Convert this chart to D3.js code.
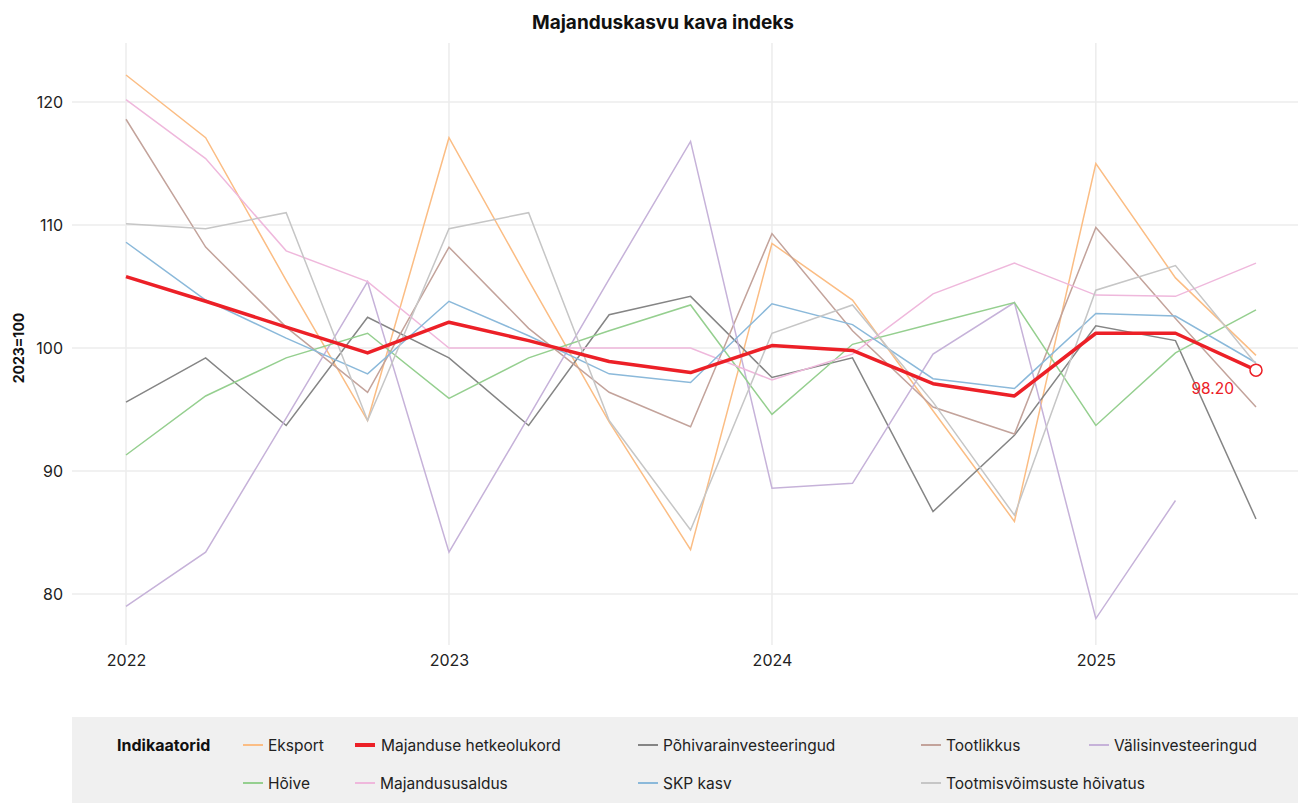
<!DOCTYPE html>
<html>
<head>
<meta charset="utf-8">
<script src="https://cdn.jsdelivr.net/npm/d3@7"></script>
<style>
    html, body { margin: 0; padding: 0; background: #fff; }
    body { font-family: Inter, "Noto Sans", sans-serif; }
    .grid line { stroke: #ececec; stroke-width: 1.5; }
</style>
</head>
<body>
<div id="mainChart"></div>
<script>
// quarters 2022 Q1 .. 2025 Q3
const quarters = [
    '2022-01-01', '2022-04-01', '2022-07-01', '2022-10-01',
    '2023-01-01', '2023-04-01', '2023-07-01', '2023-10-01',
    '2024-01-01', '2024-04-01', '2024-07-01', '2024-10-01',
    '2025-01-01', '2025-04-01', '2025-07-01'
];
const yearTicks = ['2022-01-01', '2023-01-01', '2024-01-01', '2025-01-01'];
const yTicks = [80, 90, 100, 110, 120];

const eksport = [122.2, 117.1, 105.5, 94.1, 117.1, 105.5, 94.0, 83.6, 108.5, 103.9, 94.9, 85.9, 115.0, 105.7, 99.4];
const hetkeolukord = [105.8, 103.8, 101.7, 99.6, 102.1, 100.6, 98.9, 98.0, 100.2, 99.8, 97.1, 96.1, 101.2, 101.2, 98.2];
const pohivara = [95.6, 99.2, 93.7, 102.5, 99.2, 93.7, 102.7, 104.2, 97.6, 99.2, 86.7, 92.9, 101.8, 100.6, 86.1];
const tootlikkus = [118.6, 108.2, 101.7, 96.4, 108.2, 101.6, 96.4, 93.6, 109.3, 101.4, 95.2, 93.0, 109.8, 102.4, 95.2];
const valisinv = [79.0, 83.4, 94.3, 105.4, 83.4, 94.4, 105.6, 116.8, 88.6, 89.0, 99.5, 103.7, 78.0, 87.6, null];
const hoive = [91.3, 96.1, 99.2, 101.2, 95.9, 99.2, 101.4, 103.5, 94.6, 100.3, 102.0, 103.7, 93.7, 99.6, 103.1];
const usaldus = [120.2, 115.4, 107.9, 105.4, 100.0, 100.0, 100.0, 100.0, 97.4, 99.5, 104.4, 106.9, 104.3, 104.2, 106.9];
const skp = [108.6, 103.9, 100.8, 97.9, 103.8, 101.0, 97.9, 97.2, 103.6, 101.9, 97.5, 96.7, 102.8, 102.6, 98.8];
const tootmisvoimsus = [110.1, 109.7, 111.0, 94.1, 109.7, 111.0, 94.1, 85.2, 101.2, 103.5, 95.6, 86.4, 104.7, 106.7, 98.7];

// legend order
const series = [
    { name: 'Eksport', values: eksport, color: '#fbbd84' },
    { name: 'Majanduse hetkeolukord', values: hetkeolukord, color: '#ec2027', main: true },
    { name: 'Põhivarainvesteeringud', values: pohivara, color: '#858585' },
    { name: 'Tootlikkus', values: tootlikkus, color: '#c3a39b' },
    { name: 'Välisinvesteeringud', values: valisinv, color: '#c6b2d9' },
    { name: 'Hõive', values: hoive, color: '#95cf8f' },
    { name: 'Majandususaldus', values: usaldus, color: '#efb8dc' },
    { name: 'SKP kasv', values: skp, color: '#8bb9da' },
    { name: 'Tootmisvõimsuste hõivatus', values: tootmisvoimsus, color: '#c6c6c6' }
];

const width = 1298, height = 803;
const margin = { top: 43, right: 0, bottom: 158, left: 72 };
const parse = d3.timeParse('%Y-%m-%d');

const svg = d3.select('#mainChart').append('svg')
    .attr('width', width)
    .attr('height', height);

const x = d3.scaleTime()
    .domain([parse(quarters[0]), parse(quarters[quarters.length - 1])])
    .range([margin.left + 54, width - margin.right - 42]);

const y = d3.scaleLinear()
    .domain([75.85, 124.8])
    .range([height - margin.bottom, margin.top]);

// title
svg.append('text')
    .attr('x', 663)
    .attr('y', 29)
    .attr('text-anchor', 'middle')
    .attr('font-size', 19)
    .attr('font-weight', 700)
    .attr('fill', '#111')
    .text('Majanduskasvu kava indeks');

// grid
const grid = svg.append('g').attr('class', 'grid');
grid.selectAll('.hgrid')
    .data(yTicks)
    .join('line')
    .attr('x1', margin.left)
    .attr('x2', width - margin.right)
    .attr('y1', d => y(d))
    .attr('y2', d => y(d));
grid.selectAll('.vgrid')
    .data(yearTicks)
    .join('line')
    .attr('x1', d => x(parse(d)))
    .attr('x2', d => x(parse(d)))
    .attr('y1', margin.top)
    .attr('y2', height - margin.bottom);

// axes
const yAxis = g => g
    .attr('transform', `translate(${margin.left},0)`)
    .call(d3.axisLeft(y).tickValues(yTicks).tickSize(0).tickPadding(9))
    .call(g => g.select('.domain').remove())
    .call(g => g.selectAll('text')
        .attr('font-size', 16)
        .attr('font-family', 'Inter, sans-serif')
        .attr('fill', '#222'));

const xAxis = g => g
    .attr('transform', `translate(0,${height - margin.bottom})`)
    .call(d3.axisBottom(x)
        .tickValues(yearTicks.map(parse))
        .tickFormat(d3.timeFormat('%Y'))
        .tickSize(0).tickPadding(10))
    .call(g => g.select('.domain').remove())
    .call(g => g.selectAll('text')
        .attr('font-size', 16)
        .attr('font-family', 'Inter, sans-serif')
        .attr('fill', '#222'));

svg.append('g').call(yAxis);
svg.append('g').call(xAxis);

svg.append('text')
    .attr('transform', `translate(24,${y(100)}) rotate(-90)`)
    .attr('text-anchor', 'middle')
    .attr('font-size', 14)
    .attr('font-weight', 700)
    .attr('fill', '#111')
    .text('2023=100');

// lines
const line = d3.line()
    .defined(d => d.value != null)
    .x(d => x(d.date))
    .y(d => y(d.value));

const toPoints = vals => vals.map((v, i) => ({ date: parse(quarters[i]), value: v }));

const others = series.filter(s => !s.main);
const mainSeries = series.find(s => s.main);

svg.append('g')
    .selectAll('path')
    .data(others)
    .join('path')
    .attr('fill', 'none')
    .attr('stroke', d => d.color)
    .attr('stroke-width', 1.5)
    .attr('stroke-linejoin', 'miter')
    .attr('d', d => line(toPoints(d.values)));

svg.append('path')
    .datum(toPoints(mainSeries.values))
    .attr('fill', 'none')
    .attr('stroke', mainSeries.color)
    .attr('stroke-width', 3.5)
    .attr('stroke-linejoin', 'round')
    .attr('d', line);

// last value marker
const last = toPoints(mainSeries.values).slice(-1)[0];
svg.append('circle')
    .attr('cx', x(last.date))
    .attr('cy', y(last.value))
    .attr('r', 6)
    .attr('fill', '#fff')
    .attr('stroke', mainSeries.color)
    .attr('stroke-width', 1.5);

svg.append('text')
    .attr('x', x(last.date) - 22)
    .attr('y', y(last.value) + 24)
    .attr('text-anchor', 'end')
    .attr('font-size', 15.5)
    .attr('fill', mainSeries.color)
    .text(last.value.toFixed(2));

// legend
const legendTop = 717;
svg.append('rect')
    .attr('x', margin.left)
    .attr('y', legendTop)
    .attr('width', width - margin.left)
    .attr('height', height - legendTop)
    .attr('fill', '#f0f0f0');

svg.append('text')
    .attr('x', 117)
    .attr('y', 751)
    .attr('font-size', 16)
    .attr('font-weight', 700)
    .attr('fill', '#111')
    .text('Indikaatorid');

const colX = [243, 355, 638, 921, 1089];
const rowY = [745, 783];

const items = svg.append('g')
    .selectAll('g')
    .data(series)
    .join('g')
    .attr('transform', (d, i) => `translate(${colX[i % 5]},${rowY[Math.floor(i / 5)]})`);

items.append('line')
    .attr('x1', 0)
    .attr('x2', 20)
    .attr('stroke', d => d.color)
    .attr('stroke-width', d => d.main ? 4 : 2);

items.append('text')
    .attr('x', d => d.main ? 26 : 25)
    .attr('y', 6)
    .attr('font-size', 15.5)
    .attr('fill', '#222')
    .text(d => d.name);
</script>
</body>
</html>
